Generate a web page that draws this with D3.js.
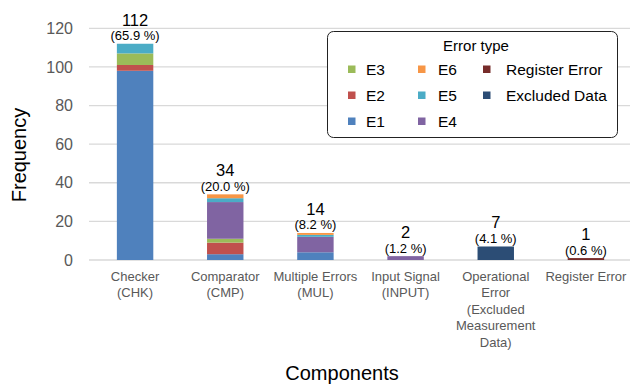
<!DOCTYPE html>
<html><head><meta charset="utf-8">
<script src="https://cdn.jsdelivr.net/npm/d3@7"></script>
<style>body{margin:0;background:#fff}svg{display:block;font-family:Arial,"Liberation Sans",sans-serif}</style>
</head><body><svg id="c" width="630" height="390"></svg>
<script>
const categories = [["Checker","(CHK)"],["Comparator","(CMP)"],["Multiple Errors","(MUL)"],["Input Signal","(INPUT)"],["Operational","Error","(Excluded","Measurement","Data)"],["Register Error"]];
const seriesNames = ["E1","E2","E3","E4","E5","E6","Register Error","Excluded Data"];
const E1 = [98, 3, 4, 0, 0, 0];
const E2 = [3, 6, 0, 0, 0, 0];
const E3 = [6, 2, 0, 0, 0, 0];
const E4 = [0, 19, 8, 2, 0, 0];
const E5 = [5, 2, 1, 0, 0, 0];
const E6 = [0, 2, 1, 0, 0, 0];
const RegisterError = [0, 0, 0, 0, 0, 1];
const ExcludedData = [0, 0, 0, 0, 7, 0];
const totals = [112, 34, 14, 2, 7, 1];
const percents = ["(65.9 %)","(20.0 %)","(8.2 %)","(1.2 %)","(4.1 %)","(0.6 %)"];
const yTicks = [0,20,40,60,80,100,120];
const legendOrder = [["E3","E6","Register Error"],["E2","E5","Excluded Data"],["E1","E4",null]];
const colors = {"E1":"#4f81bd","E2":"#c0504d","E3":"#9bbb59","E4":"#8064a2","E5":"#4bacc6","E6":"#f79646","Register Error":"#772c2a","Excluded Data":"#2c4d75"};

const seriesVals = [E1,E2,E3,E4,E5,E6,RegisterError,ExcludedData];
const rows = categories.map((c,i)=>{const r={i};seriesNames.forEach((s,k)=>r[s]=seriesVals[k][i]);return r;});
const svg = d3.select("#c");
const x = d3.scaleBand().domain(categories.map((c,i)=>i)).range([90,631]).paddingInner(0.596).paddingOuter(0.298);
const y = d3.scaleLinear().domain([0,120]).range([260,28.3]);

// grid
svg.append("g").selectAll("line").data(yTicks).join("line")
  .attr("x1",89).attr("x2",630).attr("y1",d=>y(d)).attr("y2",d=>y(d))
  .attr("stroke","#d9d9d9").attr("stroke-width",1.3);
// y tick labels
const yAxis = svg.append("g").attr("transform","translate(89,0)")
  .call(d3.axisLeft(y).tickValues(yTicks).tickSize(0).tickPadding(16));
yAxis.select(".domain").remove();
yAxis.selectAll("text").attr("font-size",16).attr("fill","#595959").attr("font-family","Arial, 'Liberation Sans', sans-serif");

// stacked bars
const stack = d3.stack().keys(seriesNames)(rows);
svg.append("g").selectAll("g").data(stack).join("g").attr("fill",d=>colors[d.key])
  .selectAll("rect").data(d=>d).join("rect")
  .attr("x",d=>x(d.data.i)).attr("width",x.bandwidth())
  .attr("y",d=>y(d[1])).attr("height",d=>Math.max(0,y(d[0])-y(d[1])));

// data labels
const lab = svg.append("g").attr("text-anchor","middle").attr("fill","#000");
totals.forEach((t,i)=>{
  const cx = x(i)+x.bandwidth()/2, top = y(t);
  lab.append("text").attr("x",cx).attr("y",top-18).attr("font-size",16.5).text(t);
  lab.append("text").attr("x",cx).attr("y",top-3.5).attr("font-size",13).text(percents[i]);
});

// x category labels
const xl = svg.append("g").attr("text-anchor","middle").attr("fill","#595959").attr("font-size",13);
categories.forEach((lines,i)=>{
  const cx = x(i)+x.bandwidth()/2;
  lines.forEach((ln,j)=>xl.append("text").attr("x",cx).attr("y",281+j*16.4).text(ln));
});

// axis titles
svg.append("text").attr("x",342).attr("y",380).attr("text-anchor","middle").attr("font-size",20).text("Components");
svg.append("text").attr("transform","translate(26,155) rotate(-90)").attr("text-anchor","middle").attr("font-size",20).text("Frequency");

// legend
const lg = svg.append("g");
lg.append("rect").attr("x",327.5).attr("y",31.5).attr("width",290).attr("height",106).attr("rx",6)
  .attr("fill","#fff").attr("stroke","#222").attr("stroke-width",1);
lg.append("text").attr("x",476).attr("y",51).attr("text-anchor","middle").attr("font-size",15).text("Error type");
const colX = [[348,366],[418,438],[483,506]];
const rowY = [69.5,95.5,121.5];
legendOrder.forEach((r,ri)=>r.forEach((name,ci)=>{
  if(!name) return;
  lg.append("rect").attr("x",colX[ci][0]).attr("y",rowY[ri]-4).attr("width",7.5).attr("height",7.5).attr("fill",colors[name]);
  lg.append("text").attr("x",colX[ci][1]).attr("y",rowY[ri]+5.5).attr("font-size",15.5).text(name);
}));
</script></body></html>
